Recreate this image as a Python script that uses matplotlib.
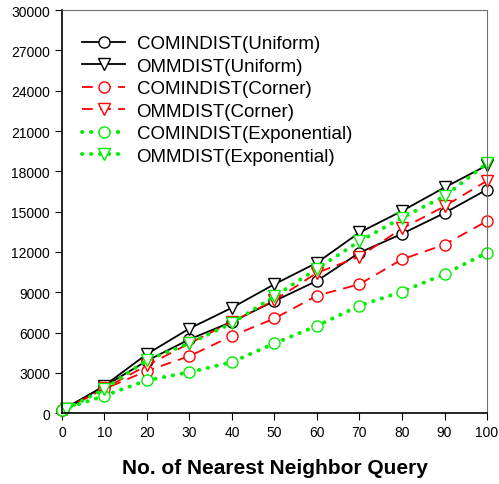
import matplotlib
matplotlib.use('Agg')
import matplotlib.pyplot as plt

# valeurs
x_circle = [0, 10, 20, 30, 40, 50, 60, 70, 80, 90, 100]
x_tri = [1, 10, 20, 30, 40, 50, 60, 70, 80, 90, 100]

comindist_uniform = [250, 2000, 3900, 5500, 6800, 8350, 9850, 11950, 13350, 14900, 16650]
ommdist_uniform = [300, 2050, 4400, 6300, 7850, 9600, 11200, 13450, 15050, 16800, 18450]
comindist_corner = [250, 1800, 3150, 4250, 5750, 7050, 8750, 9600, 11450, 12550, 14300]
ommdist_corner = [300, 1850, 3550, 5200, 6800, 8400, 10450, 11650, 13750, 15400, 17300]
comindist_expo = [250, 1300, 2450, 3050, 3800, 5200, 6500, 8000, 9050, 10350, 11950]
ommdist_expo = [300, 1800, 3950, 5200, 6700, 8700, 10750, 12800, 14550, 16150, 18600]

labels = ['COMINDIST(Uniform)', 'OMMDIST(Uniform)', 'COMINDIST(Corner)',
          'OMMDIST(Corner)', 'COMINDIST(Exponential)', 'OMMDIST(Exponential)']

x_ticks = [0, 10, 20, 30, 40, 50, 60, 70, 80, 90, 100]
y_ticks = [0, 3000, 6000, 9000, 12000, 15000, 18000, 21000, 24000, 27000, 30000]

plt.rcParams['font.family'] = ['Liberation Sans', 'DejaVu Sans']

fig = plt.figure(figsize=(4.99, 4.85), dpi=100)
ax = fig.add_axes([0.124, 0.146, 0.852, 0.831])

green = '#00ee00'
series = [
    (x_circle, comindist_uniform, 'black', '-', 'o', 1.3),
    (x_tri, ommdist_uniform, 'black', '-', 'v', 1.3),
    (x_circle, comindist_corner, 'red', (0, (6, 4)), 'o', 1.3),
    (x_tri, ommdist_corner, 'red', (0, (6, 4)), 'v', 1.3),
    (x_circle, comindist_expo, green, (0, (0.1, 2.2)), 'o', 2.8),
    (x_tri, ommdist_expo, green, (0, (0.1, 2.2)), 'v', 2.8),
]

for (xs, ys, col, ls, mk, lw), lab in zip(series, labels):
    line, = ax.plot(xs, ys, color=col, linestyle=ls, linewidth=lw, marker=mk,
                    markersize=8, markerfacecolor='white', markeredgecolor=col,
                    markeredgewidth=1.0, label=lab, clip_on=False)
    if ls == (0, (0.1, 2.2)):
        line.set_dash_capstyle('round')

ax.set_xlim(0, 100)
ax.set_ylim(0, 30000)
ax.set_xticks(x_ticks)
ax.set_yticks(y_ticks)
ax.tick_params(direction='out', length=5, labelsize=10)

ax.spines['top'].set_color('#707070')
ax.spines['right'].set_color('#707070')
ax.spines['left'].set_linewidth(1.2)
ax.spines['bottom'].set_linewidth(1.2)

ax.set_xlabel('No. of Nearest Neighbor Query', fontsize=15, fontweight='bold', labelpad=14)

ax.legend(loc='upper left', bbox_to_anchor=(0.008, 0.98), frameon=False,
          fontsize=13.5, handlelength=2.3, labelspacing=0.29, handletextpad=0.6)

plt.savefig('out.png', dpi=100)
